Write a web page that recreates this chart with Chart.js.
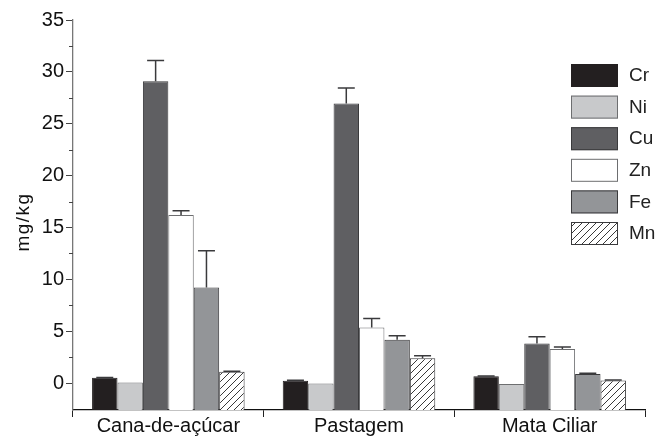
<!DOCTYPE html>
<html>
<head>
<meta charset="utf-8">
<script src="https://cdn.jsdelivr.net/npm/chart.js@4"></script>
<style>
  html, body { margin: 0; padding: 0; background: #fff; }
  #wrap { width: 658px; height: 437px; }
</style>
</head>
<body>
<div id="wrap"><canvas id="chart" width="658" height="437"></canvas></div>
<script>
// land uses and metal concentrations (mg/kg)
const categories = ['Cana-de-açúcar', 'Pastagem', 'Mata Ciliar'];
const metals = ['Cr', 'Ni', 'Cu', 'Zn', 'Fe', 'Mn'];
const crValues = [0.50, 0.22, 0.65];
const niValues = [0.05, -0.05, -0.10];
const cuValues = [29.1, 26.95, 3.82];
const znValues = [16.2, 5.36, 3.27];
const feValues = [9.2, 4.17, 0.87];
const mnValues = [1.09, 2.38, 0.24];
const crErrors = [0.03, 0.05, 0.03];
const niErrors = [0, 0, 0];
const cuErrors = [2.0, 1.5, 0.64];
const znErrors = [0.4, 0.85, 0.2];
const feErrors = [3.55, 0.4, 0.08];
const mnErrors = [0.05, 0.25, 0.05];
const yTicks = [0, 2.5, 5, 7.5, 10, 12.5, 15, 17.5, 20, 22.5, 25, 27.5, 30, 32.5, 35];
const yMin = -2.6;
const yMax = 35;
const yTitle = 'mg/kg';

const fontFamily = '"Liberation Sans", Arial, sans-serif';

// hatch pattern for Mn
function makeHatch() {
    const c = document.createElement('canvas');
    c.width = 7; c.height = 7;
    const g = c.getContext('2d');
    g.fillStyle = '#fff';
    g.fillRect(0, 0, 7, 7);
    g.strokeStyle = '#222';
    g.lineWidth = 0.9;
    g.beginPath();
    g.moveTo(0, 7); g.lineTo(7, 0);
    g.moveTo(-1, 1); g.lineTo(1, -1);
    g.moveTo(6, 8); g.lineTo(8, 6);
    g.stroke();
    return g.createPattern(c, 'repeat');
}

const fills = ['#231f20', '#c8c9cb', '#5f5f62', '#ffffff', '#939598', makeHatch()];
const borders = ['#231f20', '#6d6e70', '#3a3a3c', '#6d6e70', '#3a3a3c', '#3a3a3c'];
const values = [crValues, niValues, cuValues, znValues, feValues, mnValues];
const errors = [crErrors, niErrors, cuErrors, znErrors, feErrors, mnErrors];

const datasets = metals.map((m, i) => ({
    label: m,
    data: values[i],
    errors: errors[i],
    backgroundColor: fills[i],
    borderColor: borders[i],
    borderWidth: 1,
    base: yMin,
    categoryPercentage: 0.8,
    barPercentage: 1.0
}));

// upward error bars with caps
const errorBars = {
    id: 'errorBars',
    afterDatasetsDraw(chart) {
        const ctx = chart.ctx;
        const y = chart.scales.y;
        ctx.save();
        ctx.strokeStyle = '#3a3a3c';
        ctx.lineWidth = 1.5;
        chart.data.datasets.forEach((ds, di) => {
            const meta = chart.getDatasetMeta(di);
            meta.data.forEach((bar, i) => {
                const e = ds.errors[i];
                if (!e) return;
                const top = y.getPixelForValue(ds.data[i]);
                const tip = y.getPixelForValue(ds.data[i] + e);
                ctx.beginPath();
                ctx.moveTo(bar.x, top);
                ctx.lineTo(bar.x, tip);
                ctx.moveTo(bar.x - 8.5, tip);
                ctx.lineTo(bar.x + 8.5, tip);
                ctx.stroke();
            });
        });
        ctx.restore();
    }
};

// legend boxes at top right, inside the plot
const boxLegend = {
    id: 'boxLegend',
    afterDraw(chart) {
        const ctx = chart.ctx;
        ctx.save();
        chart.data.datasets.forEach((ds, i) => {
            const top = 64 + i * 31.6;
            ctx.fillStyle = ds.backgroundColor;
            ctx.fillRect(571, top, 47, 23);
            ctx.strokeStyle = ds.borderColor;
            ctx.lineWidth = 1;
            ctx.strokeRect(571.5, top + 0.5, 46, 22);
            ctx.fillStyle = '#222';
            ctx.font = '19px ' + fontFamily;
            ctx.textBaseline = 'middle';
            ctx.fillText(ds.label, 629, top + 12);
        });
        ctx.restore();
    }
};

// shorter minor ticks on y axis, and the spaced-out axis title
const yExtras = {
    id: 'yExtras',
    afterDraw(chart) {
        const ctx = chart.ctx;
        const y = chart.scales.y;
        ctx.save();
        ctx.strokeStyle = '#444';
        ctx.lineWidth = 1;
        yTicks.forEach(v => {
            if (v % 5 === 0) return;
            const py = Math.round(y.getPixelForValue(v)) + 0.5;
            ctx.beginPath();
            ctx.moveTo(y.right - 4, py);
            ctx.lineTo(y.right, py);
            ctx.stroke();
        });
        ctx.translate(24, 222);
        ctx.rotate(-Math.PI / 2);
        ctx.font = '19px ' + fontFamily;
        ctx.letterSpacing = '1.5px';
        ctx.fillStyle = '#111';
        ctx.textAlign = 'center';
        ctx.textBaseline = 'middle';
        ctx.fillText(yTitle, 0, 0);
        ctx.restore();
    }
};

new Chart(document.getElementById('chart'), {
    type: 'bar',
    data: { labels: categories, datasets: datasets },
    options: {
        responsive: false,
        animation: false,
        layout: { padding: { top: 20, right: 13, left: 0, bottom: 0 } },
        plugins: {
            legend: { display: false },
            tooltip: { enabled: false }
        },
        scales: {
            x: {
                offset: true,
                grid: {
                    offset: true,
                    drawOnChartArea: false,
                    drawTicks: true,
                    tickLength: 7,
                    color: '#222'
                },
                border: { color: '#111', width: 1.3 },
                ticks: {
                    color: '#111',
                    padding: -3,
                    font: { family: fontFamily, size: 20 }
                },
                afterFit(scale) { scale.height = 27; }
            },
            y: {
                min: yMin,
                max: yMax,
                afterBuildTicks(scale) {
                    scale.ticks = yTicks.map(v => ({ value: v }));
                },
                grid: {
                    drawOnChartArea: false,
                    drawTicks: true,
                    tickLength: 7,
                    tickColor: c => (c.tick && c.tick.value % 5 === 0) ? '#444' : 'rgba(0,0,0,0)'
                },
                border: { color: '#777', width: 1.3 },
                ticks: {
                    color: '#111',
                    padding: 2,
                    autoSkip: false,
                    font: { family: fontFamily, size: 20 },
                    callback: v => (v % 5 === 0 ? String(v) : '')
                },
                afterFit(scale) { scale.width = 73; }
            }
        }
    },
    plugins: [errorBars, boxLegend, yExtras]
});
</script>
</body>
</html>
